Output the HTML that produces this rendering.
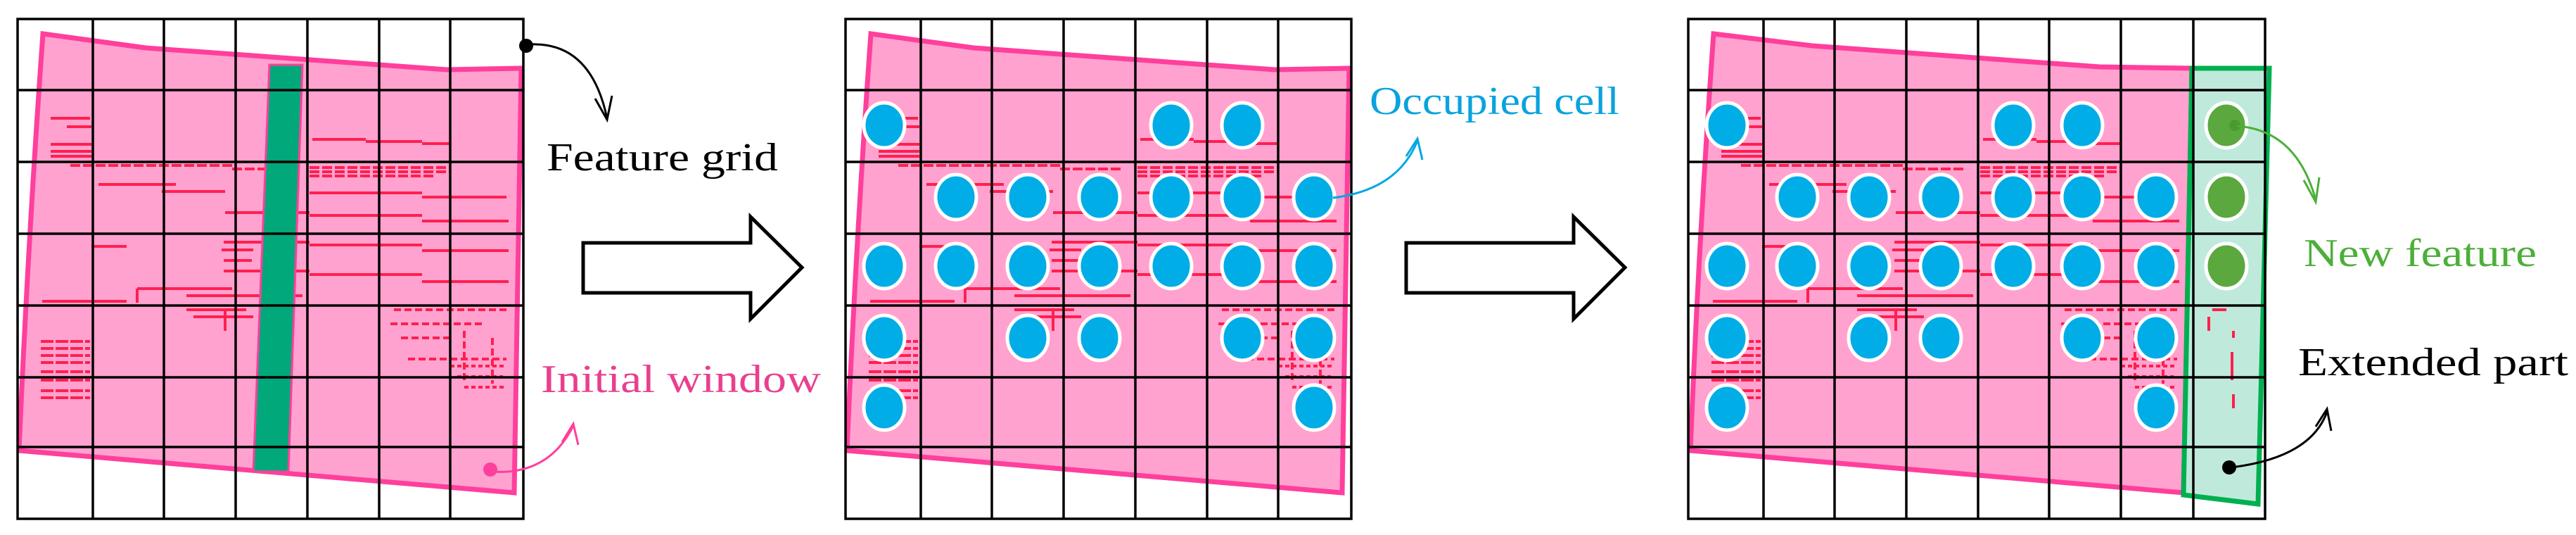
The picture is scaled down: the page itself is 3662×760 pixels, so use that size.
<!DOCTYPE html>
<html><head><meta charset="utf-8"><style>
html,body{margin:0;padding:0;background:#fff;}
svg{display:block;}
text{font-family:"Liberation Serif",serif;font-size:56px;}
</style></head><body>
<svg width="3662" height="760" viewBox="0 0 3662 760" xmlns="http://www.w3.org/2000/svg">
<defs>
<g id="scan" stroke="#ff1f4f" fill="none" stroke-width="4">
 <path d="M72 168 H128 M95 180 H130 M72 205 H130 M72 215 H130 M72 222 H130" />
 <path d="M444 198 H520 M520 201 H600 M600 204 H639"/>
 <path d="M440 238 H639 M440 244 H639 M440 250 H620 M100 235 H330 M330 240 H420" stroke-dasharray="14 4"/>
 <path d="M440 274 H600 M600 280 H720 M140 262 H250 M230 272 H320"/>
 <path d="M320 302 H440 M440 306 H600 M600 314 H723"/>
 <path d="M318 344 H440 M440 348 H600 M600 356 H723"/>
 <path d="M318 385 H440 M440 390 H600 M600 400 H723"/>
 <path d="M315 355 H360 M318 370 H358 M130 350 H180"/>
 <path d="M195 410 H330 M265 420 H430 M60 428 H180 M195 410 V430"/>
 <path d="M265 440 H350 M275 450 H360 M320 440 V470" />
 <path d="M560 440 H723 M555 460 H690 M570 480 H640 M580 510 H720 M660 470 V540 M700 480 V545" stroke-dasharray="10 5"/>
 <path d="M58 485 H128 M58 495 H128 M58 505 H128 M58 515 H128 M58 528 H128 M58 540 H128 M58 555 H128 M58 565 H128" stroke-dasharray="18 3"/>
 <path d="M640 520 H720 M650 535 H715 M660 550 H720" stroke-dasharray="6 4"/>
</g>
</defs>

<!-- PANEL 1 -->
<g>
 <path d="M61 48 L207 68 L635 99 L741 97 L731 700 L27 640 Q40 340 61 48 Z" fill="#ffa2cf" stroke="#ff3f9c" stroke-width="7"/>
 <use href="#scan"/>
 <path d="M383 92 L430 92 L410 670 L360 670 Z" fill="#00a87a" stroke="#ff3f9c" stroke-width="3"/>
 <g stroke="#000" stroke-width="3.5" fill="none">
  <rect x="25" y="27" width="719" height="710"/>
  <path d="M132 27V737M233 27V737M335 27V737M437 27V737M539 27V737M640 27V737"/>
  <path d="M25 128H744M25 230H744M25 332H744M25 434H744M25 536H744M25 635H744"/>
 </g>
 <circle cx="748" cy="65" r="10" fill="#000"/>
 <path d="M755 63 Q840 60 863 168" stroke="#000" stroke-width="3" fill="none"/>
 <path d="M846 140 L863 170 L870 136" stroke="#000" stroke-width="3" fill="none"/>
 <text x="777" y="242" textLength="329" lengthAdjust="spacingAndGlyphs">Feature grid</text>
 <circle cx="697" cy="667" r="10" fill="#ff3f9c"/>
 <path d="M700 670 Q780 675 815 605" stroke="#ff3f9c" stroke-width="3" fill="none"/>
 <path d="M799 628 L815 602 L822 632" stroke="#ff3f9c" stroke-width="3" fill="none"/>
 <text x="769" y="557" fill="#e8408e" textLength="398" lengthAdjust="spacingAndGlyphs">Initial window</text>
</g>

<!-- arrow 1 -->
<path d="M829 345 H1067 V308 L1140 380 L1067 453 V416 H829 Z" fill="#fff" stroke="#000" stroke-width="5"/>

<!-- PANEL 2 -->
<g transform="translate(1177,0)">
 <path d="M61 48 L207 68 L635 99 L741 97 L731 700 L27 640 Q40 340 61 48 Z" fill="#ffa2cf" stroke="#ff3f9c" stroke-width="7"/>
 <use href="#scan"/>
 <g stroke="#000" stroke-width="3.5" fill="none">
  <rect x="25" y="27" width="719" height="710"/>
  <path d="M132 27V737M233 27V737M335 27V737M437 27V737M539 27V737M640 27V737"/>
  <path d="M25 128H744M25 230H744M25 332H744M25 434H744M25 536H744M25 635H744"/>
 </g>
 <g fill="#00ade6" stroke="#fff" stroke-width="5">
  <ellipse cx="80" cy="178" rx="29" ry="32"/><ellipse cx="488" cy="178" rx="29" ry="32"/><ellipse cx="589" cy="178" rx="29" ry="32"/>
  <ellipse cx="182" cy="280" rx="29" ry="32"/><ellipse cx="284" cy="280" rx="29" ry="32"/><ellipse cx="386" cy="280" rx="29" ry="32"/><ellipse cx="488" cy="280" rx="29" ry="32"/><ellipse cx="589" cy="280" rx="29" ry="32"/><ellipse cx="691" cy="280" rx="29" ry="32"/>
  <ellipse cx="80" cy="378" rx="29" ry="32"/><ellipse cx="182" cy="378" rx="29" ry="32"/><ellipse cx="284" cy="378" rx="29" ry="32"/><ellipse cx="386" cy="378" rx="29" ry="32"/><ellipse cx="488" cy="378" rx="29" ry="32"/><ellipse cx="589" cy="378" rx="29" ry="32"/><ellipse cx="691" cy="378" rx="29" ry="32"/>
  <ellipse cx="80" cy="480" rx="29" ry="32"/><ellipse cx="284" cy="480" rx="29" ry="32"/><ellipse cx="386" cy="480" rx="29" ry="32"/><ellipse cx="589" cy="480" rx="29" ry="32"/><ellipse cx="691" cy="480" rx="29" ry="32"/>
  <ellipse cx="80" cy="579" rx="29" ry="32"/><ellipse cx="691" cy="579" rx="29" ry="32"/>
 </g>
 <path d="M718 281 Q810 270 838 200" stroke="#00a8e0" stroke-width="3" fill="none"/>
 <path d="M822 222 L838 197 L845 227" stroke="#00a8e0" stroke-width="3" fill="none"/>
 <text x="770" y="162" fill="#0aa3dc" textLength="355" lengthAdjust="spacingAndGlyphs">Occupied cell</text>
</g>

<!-- arrow 2 -->
<path d="M1999 345 H2237 V308 L2310 380 L2237 453 V416 H1999 Z" fill="#fff" stroke="#000" stroke-width="5"/>

<!-- PANEL 3 -->
<g transform="translate(2375,0)">
 <path d="M61 48 L201 65 L610 95 L741 97 L729 700 L28 640 Q40 340 61 48 Z" fill="#ffa2cf" stroke="#ff3f9c" stroke-width="7"/>
 <use href="#scan"/>
 <path d="M741 97 L851 97 L835 716 L729 703 Z" fill="#bfeadb" stroke="#00b050" stroke-width="7"/>
 <path d="M770 440 H790 M765 450 V470 M800 470 V480 M798 500 V540 M800 560 V580" stroke="#ff1f4f" stroke-width="4"/>
 <g stroke="#000" stroke-width="3.5" fill="none">
  <rect x="25" y="27" width="820" height="710"/>
  <path d="M132 27V737M233 27V737M335 27V737M437 27V737M538 27V737M640 27V737M743 27V737"/>
  <path d="M25 128H845M25 230H845M25 332H845M25 434H845M25 536H845M25 635H845"/>
 </g>
 <g fill="#00ade6" stroke="#fff" stroke-width="5">
  <ellipse cx="80" cy="178" rx="29" ry="32"/><ellipse cx="487" cy="178" rx="29" ry="32"/><ellipse cx="585" cy="178" rx="29" ry="32"/>
  <ellipse cx="180" cy="280" rx="29" ry="32"/><ellipse cx="282" cy="280" rx="29" ry="32"/><ellipse cx="384" cy="280" rx="29" ry="32"/><ellipse cx="487" cy="280" rx="29" ry="32"/><ellipse cx="585" cy="280" rx="29" ry="32"/><ellipse cx="690" cy="280" rx="29" ry="32"/>
  <ellipse cx="80" cy="378" rx="29" ry="32"/><ellipse cx="180" cy="378" rx="29" ry="32"/><ellipse cx="282" cy="378" rx="29" ry="32"/><ellipse cx="384" cy="378" rx="29" ry="32"/><ellipse cx="487" cy="378" rx="29" ry="32"/><ellipse cx="585" cy="378" rx="29" ry="32"/><ellipse cx="690" cy="378" rx="29" ry="32"/>
  <ellipse cx="80" cy="480" rx="29" ry="32"/><ellipse cx="282" cy="480" rx="29" ry="32"/><ellipse cx="384" cy="480" rx="29" ry="32"/><ellipse cx="585" cy="480" rx="29" ry="32"/><ellipse cx="690" cy="480" rx="29" ry="32"/>
  <ellipse cx="80" cy="579" rx="29" ry="32"/><ellipse cx="690" cy="579" rx="29" ry="32"/>
 </g>
 <g fill="#5aa83e" stroke="#fff" stroke-width="5">
  <ellipse cx="790" cy="178" rx="29" ry="32"/><ellipse cx="790" cy="280" rx="29" ry="32"/><ellipse cx="790" cy="378" rx="29" ry="32"/>
 </g>
 <circle cx="802" cy="178" r="8" fill="#4a9a30"/>
 <path d="M805 179 Q890 185 917 284" stroke="#4caf3a" stroke-width="3" fill="none"/>
 <path d="M900 256 L917 287 L922 252" stroke="#4caf3a" stroke-width="3" fill="none"/>
 <text x="900" y="378" fill="#4caf3a" textLength="331" lengthAdjust="spacingAndGlyphs">New feature</text>
 <circle cx="794" cy="664" r="10" fill="#000"/>
 <path d="M797 664 Q910 650 933 585" stroke="#000" stroke-width="3" fill="none"/>
 <path d="M917 606 L933 581 L939 612" stroke="#000" stroke-width="3" fill="none"/>
 <text x="892" y="533" textLength="384" lengthAdjust="spacingAndGlyphs">Extended part</text>
</g>
</svg>
</body></html>
